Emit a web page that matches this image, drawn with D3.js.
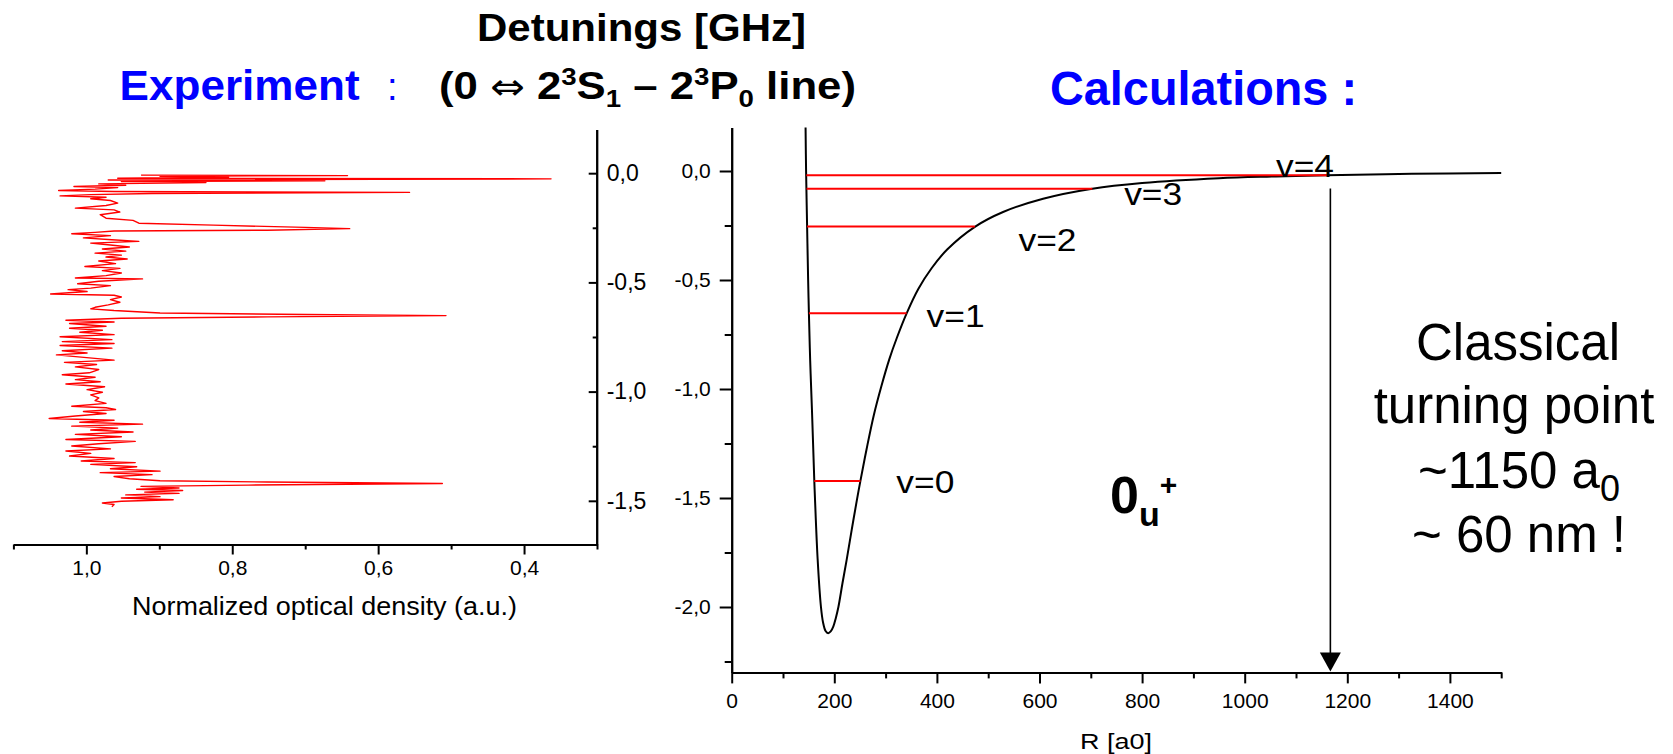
<!DOCTYPE html>
<html lang="en">
<head>
<meta charset="UTF-8">
<title>Experiment vs calculations - 0u+</title>
<script src="https://d3js.org/d3.v7.min.js"></script>
<style>
  body { margin: 0; background: #fff; }
  svg text { font-family: "Liberation Sans", Arial, sans-serif; }
</style>
</head>
<body>
<script>

// experimental trace: [detuning (GHz), normalized optical density]
const spectrum = [
  [-0.009,0.925],[-0.011,0.642],[-0.014,0.899],[-0.018,0.805],[-0.023,0.957],[-0.026,0.363],[-0.031,0.970],
  [-0.035,0.673],[-0.038,0.952],[-0.043,0.836],[-0.049,0.983],[-0.055,0.946],[-0.061,1.017],[-0.066,0.957],
  [-0.073,0.988],[-0.079,1.038],[-0.084,0.962],[-0.088,0.557],[-0.093,0.910],[-0.098,0.994],[-0.104,1.036],
  [-0.110,0.973],[-0.117,0.994],[-0.125,0.967],[-0.137,0.957],[-0.148,0.973],[-0.160,1.015],[-0.168,0.962],
  [-0.178,0.954],[-0.190,0.981],[-0.206,0.973],[-0.216,0.936],[-0.229,0.928],[-0.238,0.826],[-0.248,0.700],
  [-0.254,0.639],[-0.261,0.752],[-0.265,0.962],[-0.271,0.988],[-0.277,1.020],[-0.286,0.967],[-0.296,1.004],
  [-0.305,0.965],[-0.312,0.928],[-0.320,0.994],[-0.329,0.967],[-0.338,0.941],[-0.347,0.978],[-0.357,0.946],
  [-0.366,0.988],[-0.375,0.952],[-0.384,0.973],[-0.393,0.944],[-0.402,0.983],[-0.414,0.960],[-0.427,1.002],
  [-0.436,0.954],[-0.446,0.978],[-0.457,0.952],[-0.469,0.973],[-0.480,1.015],[-0.484,0.923],[-0.495,0.983],
  [-0.506,1.012],[-0.515,0.967],[-0.526,0.994],[-0.533,1.025],[-0.542,0.999],[-0.553,1.049],[-0.559,0.962],
  [-0.567,0.952],[-0.579,0.967],[-0.591,0.954],[-0.603,0.970],[-0.614,0.988],[-0.621,0.994],[-0.629,0.962],
  [-0.640,0.899],[-0.647,0.700],[-0.652,0.507],[-0.658,0.752],[-0.664,0.952],[-0.673,1.028],[-0.681,0.962],
  [-0.688,1.023],[-0.701,0.973],[-0.710,1.023],[-0.719,0.978],[-0.728,1.009],[-0.739,0.962],[-0.749,1.036],
  [-0.762,0.965],[-0.771,1.033],[-0.780,0.962],[-0.789,1.036],[-0.801,0.965],[-0.813,1.033],[-0.823,0.999],
  [-0.832,1.041],[-0.856,0.962],[-0.866,1.030],[-0.876,0.986],[-0.887,1.015],[-0.899,0.983],[-0.914,0.996],
  [-0.923,1.033],[-0.934,0.988],[-0.945,1.015],[-0.955,0.981],[-0.965,1.028],[-0.978,0.975],[-0.991,0.999],
  [-1.003,0.978],[-1.015,0.994],[-1.029,0.983],[-1.041,0.988],[-1.054,0.973],[-1.067,1.020],[-1.074,0.973],
  [-1.082,0.960],[-1.091,1.004],[-1.100,0.973],[-1.112,1.015],[-1.123,1.051],[-1.131,0.962],[-1.140,1.009],
  [-1.149,0.923],[-1.158,1.020],[-1.167,0.957],[-1.176,0.994],[-1.185,0.936],[-1.196,1.015],[-1.207,0.952],
  [-1.219,1.028],[-1.228,0.933],[-1.239,0.983],[-1.249,1.020],[-1.262,0.967],[-1.272,1.028],[-1.283,0.994],
  [-1.295,1.023],[-1.306,0.962],[-1.318,1.007],[-1.325,0.933],[-1.333,0.994],[-1.344,0.931],[-1.353,0.967],
  [-1.364,0.899],[-1.371,0.981],[-1.380,0.910],[-1.389,0.962],[-1.399,0.941],[-1.408,0.899],[-1.414,0.752],
  [-1.421,0.512],[-1.428,0.778],[-1.434,0.925],[-1.441,0.873],[-1.447,0.931],[-1.453,0.868],[-1.460,0.920],
  [-1.466,0.873],[-1.473,0.946],[-1.481,0.899],[-1.487,0.952],[-1.495,0.881],[-1.502,0.952],[-1.510,0.978],
  [-1.517,0.962],[-1.527,0.965]
];

// calculated 0u+ potential (R in a0, energy in GHz)
const potentialR = [144, 145, 147, 149, 150.5, 153, 156.5, 161, 162.3, 167.5, 174, 178, 183, 188, 193, 198, 203,
  208, 216, 224, 234, 244, 251, 263, 277, 292, 307, 322, 341, 364, 390, 420, 474, 529, 607, 703, 800, 950, 1061,
  1160, 1326, 1500];
const potentialV = [0.2, 0.0, -0.255, -0.5, -0.653, -0.87, -1.1, -1.42, -1.5, -1.78, -2.0, -2.07, -2.11, -2.12,
  -2.112, -2.09, -2.05, -2.0, -1.89, -1.785, -1.645, -1.51, -1.42, -1.275, -1.12, -0.985, -0.865, -0.765, -0.653,
  -0.54, -0.445, -0.36, -0.256, -0.188, -0.127, -0.081, -0.055, -0.033, -0.025, -0.019, -0.013, -0.009];

// vibrational levels
const levelNames = ['v=0', 'v=1', 'v=2', 'v=3', 'v=4'];
const levelEnergy = [-1.422, -0.653, -0.255, -0.081, -0.020];
const levelRin = [161, 150.5, 147, 146, 145.5];
const levelRout = [251, 341, 474, 703, 1160];
const levelLabelR = [321, 380, 559, 765, 1061];
const levelLabelV = [-1.476, -0.714, -0.366, -0.156, -0.026];

const turningPoint = 1167;

// ticks
const densityTicks = [1.0, 0.8, 0.6, 0.4];
const densityMinor = [1.1, 0.9, 0.7, 0.5, 0.3];
const detuningTicks = [0, -0.5, -1.0, -1.5];
const detuningMinor = [-0.25, -0.75, -1.25];
const energyTicks = [0, -0.5, -1.0, -1.5, -2.0];
const energyMinor = [-0.25, -0.75, -1.25, -1.75, -2.25];
const rTicks = [0, 200, 400, 600, 800, 1000, 1200, 1400];
const rMinor = [100, 300, 500, 700, 900, 1100, 1300, 1500];

const W = 1673, H = 754;
const fmt = v => v.toFixed(1).replace('.', ',');

const svg = d3.select('body').append('svg').attr('width', W).attr('height', H);

function styleAxis(g, size) {
  g.attr('font-family', '"Liberation Sans", Arial, sans-serif');
  g.selectAll('path, line').attr('stroke', '#000').attr('stroke-width', 2);
  g.selectAll('text').attr('font-size', size).attr('fill', '#000');
}

// ---------- left panel : experiment ----------
const xOD = d3.scaleLinear().domain([1.1, 0.3]).range([13.4, 597]);
const yDet = d3.scaleLinear().domain([0.2, -1.7]).range([129.5, 544.5]);

svg.append('path')
  .datum(spectrum)
  .attr('fill', 'none')
  .attr('stroke', '#ff0000')
  .attr('stroke-width', 1.4)
  .attr('stroke-linejoin', 'round')
  .attr('d', d3.line().x(d => xOD(d[1])).y(d => yDet(d[0])));

const lx = svg.append('g').attr('transform', 'translate(0,544.5)');
lx.call(d3.axisBottom(xOD).tickValues(densityTicks).tickSize(10).tickSizeOuter(0).tickPadding(6).tickFormat(fmt));
lx.append('g').call(d3.axisBottom(xOD).tickValues(densityMinor).tickSize(5).tickSizeOuter(0).tickFormat(''));
styleAxis(lx, 21);

const ly = svg.append('g').attr('transform', 'translate(596.7,0)');
ly.call(d3.axisRight(yDet).tickValues(detuningTicks).tickSizeInner(-8).tickSizeOuter(0).tickPadding(10).tickFormat(fmt));
ly.append('g').call(d3.axisRight(yDet).tickValues(detuningMinor).tickSizeInner(-4).tickSizeOuter(0).tickFormat(''));
styleAxis(ly, 23);

svg.append('text')
  .attr('x', 132).attr('y', 615)
  .attr('font-size', 25)
  .attr('textLength', 385).attr('lengthAdjust', 'spacingAndGlyphs')
  .text('Normalized optical density (a.u.)');

// ---------- right panel : calculations ----------
const xR = d3.scaleLinear().domain([0, 1500]).range([731.7, 1501.2]);
const yV = d3.scaleLinear().domain([0.2, -2.3]).range([127.4, 672.4]);

const potential = potentialR.map((r, i) => [r, potentialV[i]]);
svg.append('path')
  .datum(potential)
  .attr('fill', 'none')
  .attr('stroke', '#000')
  .attr('stroke-width', 2)
  .attr('d', d3.line().x(d => xR(d[0])).y(d => yV(d[1])).curve(d3.curveCatmullRom.alpha(0.5)));

svg.selectAll('.level')
  .data(levelEnergy)
  .enter()
  .append('line')
  .attr('class', 'level')
  .attr('x1', (d, i) => xR(levelRin[i]))
  .attr('x2', (d, i) => xR(levelRout[i]))
  .attr('y1', d => yV(d))
  .attr('y2', d => yV(d))
  .attr('stroke', '#ff0000')
  .attr('stroke-width', 2);

svg.selectAll('.level-label')
  .data(levelNames)
  .enter()
  .append('text')
  .attr('class', 'level-label')
  .attr('x', (d, i) => xR(levelLabelR[i]))
  .attr('y', (d, i) => yV(levelLabelV[i]))
  .attr('font-size', 31)
  .attr('textLength', 58).attr('lengthAdjust', 'spacingAndGlyphs')
  .text(d => d);

// classical turning point arrow
const ax = xR(turningPoint);
svg.append('line')
  .attr('x1', ax).attr('x2', ax)
  .attr('y1', yV(-0.08)).attr('y2', yV(-2.3) - 18)
  .attr('stroke', '#000').attr('stroke-width', 1.6);
svg.append('path')
  .attr('d', `M${ax - 10.5},${yV(-2.3) - 20}L${ax + 10.5},${yV(-2.3) - 20}L${ax},${yV(-2.3) - 1}Z`)
  .attr('fill', '#000');

const rx = svg.append('g').attr('transform', `translate(0,${yV(-2.3)})`);
rx.call(d3.axisBottom(xR).tickValues(rTicks).tickSize(11).tickSizeOuter(0).tickPadding(10).tickFormat(d3.format('d')));
rx.append('g').call(d3.axisBottom(xR).tickValues(rMinor).tickSize(6).tickSizeOuter(0).tickFormat(''));
styleAxis(rx, 21);

const ry = svg.append('g').attr('transform', `translate(${xR(0)},0)`);
ry.call(d3.axisLeft(yV).tickValues(energyTicks).tickSize(12).tickSizeOuter(0).tickPadding(9).tickFormat(fmt));
ry.append('g').call(d3.axisLeft(yV).tickValues(energyMinor).tickSize(7).tickSizeOuter(0).tickFormat(''));
styleAxis(ry, 21);

svg.append('text')
  .attr('x', 1116).attr('y', 749)
  .attr('text-anchor', 'middle')
  .attr('font-size', 22)
  .attr('textLength', 72).attr('lengthAdjust', 'spacingAndGlyphs')
  .text('R [a0]');

// state label 0u+
const state = svg.append('text').attr('x', 1110).attr('y', 512.7).attr('font-weight', 'bold');
state.append('tspan').attr('font-size', 52).text('0');
state.append('tspan').attr('font-size', 34).attr('dy', 13).text('u');
state.append('tspan').attr('font-size', 30).attr('dy', -31).text('+');

// turning point note
const note = svg.append('g').attr('font-size', 51).attr('text-anchor', 'middle');
note.append('text').attr('x', 1518).attr('y', 360).text('Classical');
note.append('text').attr('x', 1514).attr('y', 423.3).text('turning point');
const n3 = note.append('text').attr('x', 1519).attr('y', 488.3);
n3.append('tspan').text('~1150 a');
n3.append('tspan').attr('font-size', 36).attr('dy', 13).text('0');
note.append('text').attr('x', 1519).attr('y', 551.7).text('~ 60 nm !');

// ---------- titles ----------
svg.append('text')
  .attr('x', 119.6).attr('y', 100)
  .attr('font-size', 42).attr('font-weight', 'bold').attr('fill', '#0000ff')
  .attr('textLength', 240).attr('lengthAdjust', 'spacingAndGlyphs')
  .text('Experiment');
svg.append('text')
  .attr('x', 387).attr('y', 100)
  .attr('font-size', 38).attr('fill', '#0000ff')
  .text(':');

svg.append('text')
  .attr('x', 1050).attr('y', 105)
  .attr('font-size', 49).attr('font-weight', 'bold').attr('fill', '#0000ff')
  .attr('textLength', 307).attr('lengthAdjust', 'spacingAndGlyphs')
  .text('Calculations :');

svg.append('text')
  .attr('x', 477).attr('y', 41)
  .attr('font-size', 38).attr('font-weight', 'bold')
  .attr('textLength', 329).attr('lengthAdjust', 'spacingAndGlyphs')
  .text('Detunings [GHz]');

const sub = svg.append('text')
  .attr('x', 439).attr('y', 99)
  .attr('font-size', 38).attr('font-weight', 'bold')
  .attr('textLength', 417).attr('lengthAdjust', 'spacingAndGlyphs');
sub.append('tspan').text('(0 ');
sub.append('tspan').attr('font-weight', 'normal').attr('font-family', '"DejaVu Sans", sans-serif').attr('font-size', 36).text('\u21D4');
sub.append('tspan').text(' 2');
sub.append('tspan').attr('font-size', 24).attr('dy', -14).text('3');
sub.append('tspan').attr('dy', 14).text('S');
sub.append('tspan').attr('font-size', 24).attr('dy', 8).text('1');
sub.append('tspan').attr('dy', -8).text(' \u2013 2');
sub.append('tspan').attr('font-size', 24).attr('dy', -14).text('3');
sub.append('tspan').attr('dy', 14).text('P');
sub.append('tspan').attr('font-size', 24).attr('dy', 8).text('0');
sub.append('tspan').attr('dy', -8).text(' line)');

</script>
</body>
</html>
